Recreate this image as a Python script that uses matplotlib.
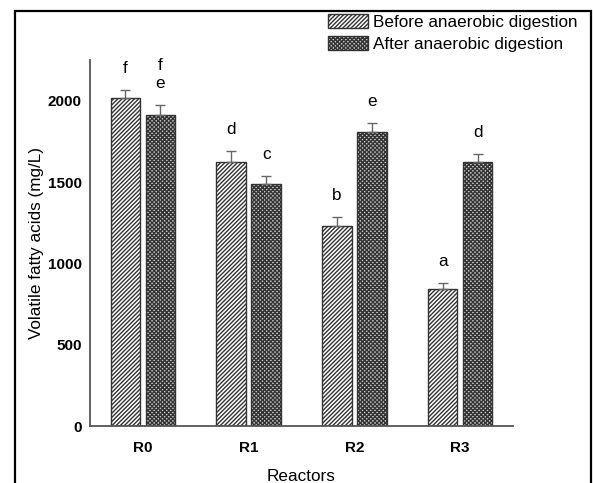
import matplotlib
matplotlib.use("Agg")
import matplotlib.pyplot as plt
from matplotlib.patches import Rectangle, Patch
import numpy as np

plt.rcParams['font.family'] = ['Liberation Sans', 'DejaVu Sans']
plt.rcParams['hatch.linewidth'] = 1.0

reactors = ["R0", "R1", "R2", "R3"]
before = [2015, 1625, 1230, 840]
before_err = [50, 65, 55, 40]
after = [1910, 1485, 1810, 1620]
after_err = [65, 50, 55, 55]
before_letters = ["f", "d", "b", "a"]
after_letters = ["f\ne", "c", "e", "d"]
yticks = [0, 500, 1000, 1500, 2000]

fig = plt.figure(figsize=(5.93, 4.83), dpi=100)
ax = fig.add_axes([90/593, 1-426/483, (513-90)/593, (426-60)/483])

x = np.arange(len(reactors))
w = 0.28
off = 0.165
ecol = '#333333'
h1 = '////////'
h2 = 'xxxxxxxx'
ax.bar(x - off, before, w, facecolor='white', edgecolor=ecol, hatch=h1, linewidth=1.0)
ax.bar(x + off, after, w, facecolor='#c8c8c8', edgecolor=ecol, hatch=h2, linewidth=1.0)
ax.errorbar(x - off, before, yerr=[[0]*4, before_err], fmt='none', ecolor='#666666', elinewidth=1, capsize=3.5, capthick=1)
ax.errorbar(x + off, after, yerr=[[0]*4, after_err], fmt='none', ecolor='#666666', elinewidth=1, capsize=3.5, capthick=1)

for xi, v, e, t in zip(x - off, before, before_err, before_letters):
    ax.annotate(t, (xi, v + e), xytext=(0, 10), textcoords='offset points', ha='center', va='bottom', fontsize=12.3, linespacing=1.25)
for xi, v, e, t in zip(x + off, after, after_err, after_letters):
    ax.annotate(t, (xi, v + e), xytext=(0, 10), textcoords='offset points', ha='center', va='bottom', fontsize=12.3, linespacing=1.25)

ax.set_xlim(-0.5, 3.5)
ax.set_ylim(0, 2250)
ax.set_yticks(yticks)
ax.set_xticks(x)
ax.set_xticklabels(reactors, fontweight='bold', fontsize=11)
ax.set_yticklabels([str(t) for t in yticks], fontweight='bold', fontsize=11)
ax.tick_params(axis='both', length=0)
ax.tick_params(axis='y', pad=6)
ax.tick_params(axis='x', pad=11)
for s in ['top', 'right']:
    ax.spines[s].set_visible(False)
for s in ['left', 'bottom']:
    ax.spines[s].set_color('#555555')
    ax.spines[s].set_linewidth(1.3)

ax.set_ylabel("Volatile fatty acids (mg/L)", fontsize=12.3, labelpad=3)
ax.set_xlabel("Reactors", fontsize=12.3, labelpad=10)

handles = [Patch(facecolor='white', edgecolor=ecol, hatch=h1, linewidth=1.0),
           Patch(facecolor='#c8c8c8', edgecolor=ecol, hatch=h2, linewidth=1.0)]
fig.legend(handles, ["Before anaerobic digestion", "After anaerobic digestion"],
           loc='upper right', bbox_to_anchor=(579/593, 1-12/483), frameon=False,
           fontsize=12.3, handlelength=2.3, handleheight=0.9, handletextpad=0.3,
           labelspacing=0.35, borderaxespad=0, borderpad=0.1)

fig.patches.append(Rectangle((15/593, -0.1), (591-15)/593, 1.1 - 11/483, transform=fig.transFigure,
                             fill=False, edgecolor='black', linewidth=1.6))

fig.savefig("out.png", dpi=100)
